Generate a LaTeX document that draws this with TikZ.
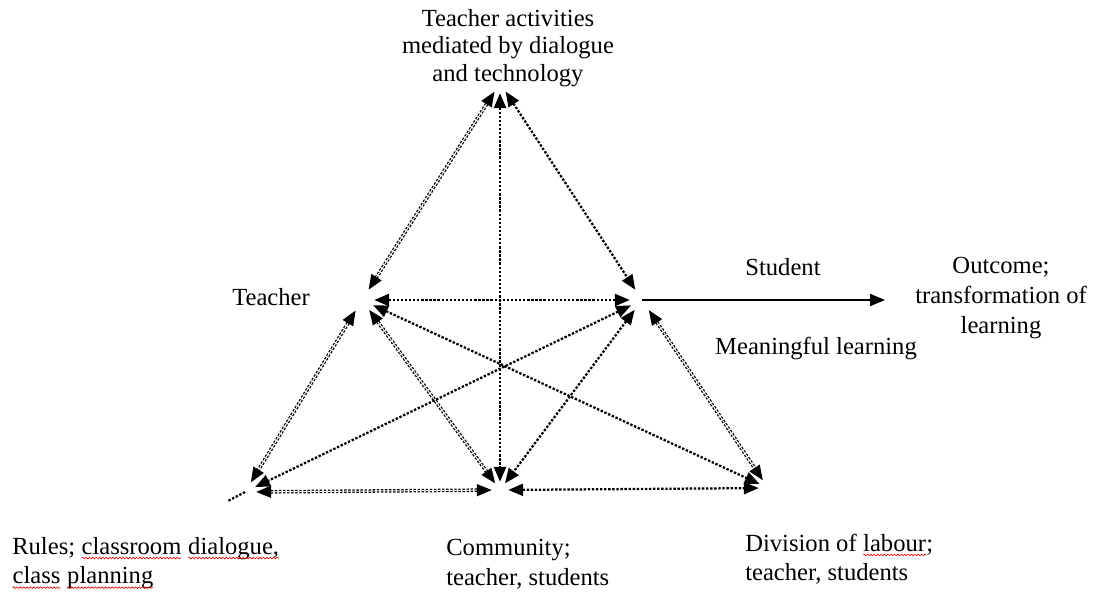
\documentclass[tikz,border=0pt]{standalone}
\usepackage{fontspec}
\setmainfont{Liberation Serif}
\usetikzlibrary{arrows.meta, decorations.pathmorphing}
% red wavy underline, as a spelling checker marks a word
\newcommand\spellwave[1]{\tikz[baseline=(w.base), x=1cm, y=1cm]{%
  \node[inner sep=0pt, outer sep=0pt] (w) {#1};%
  \draw[red!85!black, line width=0.45pt, decorate,
        decoration={snake, amplitude=0.55pt, segment length=2.4pt}]
    ([yshift=-2.8pt]w.base west) -- ([yshift=-2.8pt]w.base east);}}
\tikzset{
  vtx/.style={circle, inner sep=0pt, minimum size=#1},
  link/.style={line width=1.6pt, dash pattern=on 1.7pt off 1.2pt,
    {Triangle[length=0.37cm, width=0.3cm]}-{Triangle[length=0.37cm, width=0.3cm]}},
  twin/.style={link, line width=0.9pt, double, double distance=0.7pt},
  lbl/.style={inner sep=0pt, font=\fontsize{17.5}{21}\selectfont, align=center, text=black},
}
\begin{document}
\begin{tikzpicture}[x=0.025cm, y=-0.025cm]
  \useasboundingbox (0,0) rectangle (1108,592);

  % corners of the activity triangles
  \node[vtx=0.5cm]  (A) at (500,83)  {};
  \node[vtx=0.6cm]  (T) at (362,300) {};
  \node[vtx=0.6cm]  (S) at (642,300) {};
  \node[vtx=0.55cm] (R) at (245,492) {};
  \node[vtx=0.4cm]  (C) at (500,490) {};
  \node[vtx=0.45cm] (D) at (768,488) {};

  % labels
  \node[lbl, font=\fontsize{17.5}{19.5}\selectfont] (act) at (508,48)
    {Teacher activities\\mediated by dialogue\\and technology};
  \node[lbl] (teach) at (271,297) {Teacher};
  \node[lbl] (stud) at (783,267) {Student};
  \node[lbl] (outc) at (1001,298) {Outcome;\\transformation of\\learning};
  \node[lbl] (mean) at (816,348) {Meaningful learning};
  \node[lbl, anchor=west, align=left] (rules) at (12,563)
    {Rules; \spellwave{classroom} \spellwave{dialogue,}\\\spellwave{class} \spellwave{planning}};
  \node[lbl, anchor=west, align=left] (comm) at (446,564) {Community;\\teacher, students};
  \node[lbl, anchor=west, align=left] (div) at (745,559) {Division of \spellwave{labour};\\teacher, students};

  % two-way links between the corners
  \draw[twin] (A) -- (T);
  \draw[link] (A) -- (S);
  \draw[link] (A) -- (C);
  \draw[link] (T) -- (S);
  \draw[twin] (T) -- (R);
  \draw[twin] (T) -- (C);
  \draw[link] (T) -- (D);
  \draw[link] (S) -- (R);
  \draw[link] (S) -- (C);
  \draw[twin] (S) -- (D);
  \draw[twin] (R) -- (C);
  \draw[link] (C) -- (D);

  % short tail past the rules corner
  \coordinate (tail) at (228,501);
  \draw[link, -] (R.center) -- (tail);

  % student towards the outcome
  \coordinate (outtip) at (885,300);
  \draw[line width=1pt, -{Triangle[length=0.37cm, width=0.3cm]}] (S.center) -- (outtip);
\end{tikzpicture}
\end{document}
